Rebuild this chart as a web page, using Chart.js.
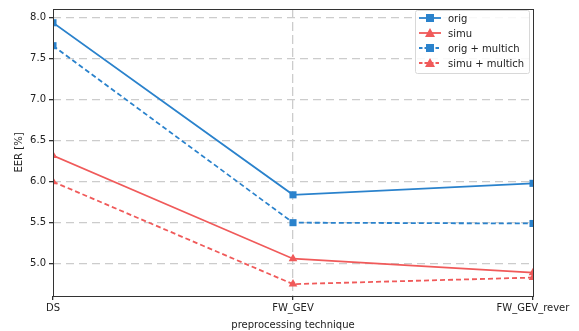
<!DOCTYPE html>
<html>
<head>
<meta charset="utf-8">
<script src="https://cdn.jsdelivr.net/npm/chart.js@4/dist/chart.umd.min.js"></script>
<style>
  html, body { margin: 0; padding: 0; background: #fff; }
  #wrap { width: 579px; height: 331px; }
</style>
</head>
<body>
<div id="wrap"><canvas id="grafico" width="579" height="331"></canvas></div>
<script>
// --- DADOS ---
const categorias = ['DS', 'FW_GEV', 'FW_GEV_rever'];
const orig = [7.94, 5.84, 5.98];
const simu = [6.32, 5.06, 4.89];
const origMultich = [7.66, 5.50, 5.49];
const simuMultich = [6.00, 4.75, 4.83];
const yTicks = [5.0, 5.5, 6.0, 6.5, 7.0, 7.5, 8.0];

const AZUL = '#2a82cc';
const VERMELHO = '#f05a5a';
const FONTE = "'DejaVu Sans', sans-serif";

const series = [
    { label: 'orig', data: orig, cor: AZUL, ponto: 'rect', tracejado: [] },
    { label: 'simu', data: simu, cor: VERMELHO, ponto: 'triangle', tracejado: [] },
    { label: 'orig + multich', data: origMultich, cor: AZUL, ponto: 'rect', tracejado: [5, 3] },
    { label: 'simu + multich', data: simuMultich, cor: VERMELHO, ponto: 'triangle', tracejado: [5, 3] }
];

// moldura + legenda no estilo matplotlib
const molduraPlugin = {
    id: 'moldura',
    afterDraw(chart) {
        const { ctx, chartArea: a } = chart;
        ctx.save();
        ctx.strokeStyle = '#333';
        ctx.lineWidth = 1;
        ctx.strokeRect(a.left + 0.5, a.top + 0.5, a.right - a.left, a.bottom - a.top);

        // legenda
        const bx = 415, by = 10, bw = 114, bh = 63;
        ctx.fillStyle = 'rgba(255,255,255,0.85)';
        ctx.strokeStyle = '#d8d8d8';
        ctx.beginPath();
        ctx.roundRect(bx + 0.5, by + 0.5, bw, bh, 2);
        ctx.fill();
        ctx.stroke();
        ctx.font = '10px ' + FONTE;
        ctx.textBaseline = 'middle';
        series.forEach((s, i) => {
            const y = by + 8 + i * 15;
            ctx.strokeStyle = s.cor;
            ctx.lineWidth = 1.8;
            ctx.setLineDash(s.tracejado.length ? [3.5, 2] : []);
            ctx.beginPath();
            ctx.moveTo(bx + 4, y);
            ctx.lineTo(bx + 26, y);
            ctx.stroke();
            ctx.setLineDash([]);
            ctx.fillStyle = s.cor;
            if (s.ponto === 'rect') {
                ctx.fillRect(bx + 11, y - 4, 8, 8);
            } else {
                ctx.beginPath();
                ctx.moveTo(bx + 15, y - 5);
                ctx.lineTo(bx + 20, y + 4);
                ctx.lineTo(bx + 10, y + 4);
                ctx.closePath();
                ctx.fill();
            }
            ctx.fillStyle = '#222';
            ctx.fillText(s.label, bx + 33, y + 1);
        });
        ctx.restore();
    }
};

const ctx = document.getElementById('grafico').getContext('2d');
new Chart(ctx, {
    type: 'line',
    data: {
        labels: categorias,
        datasets: series.map(s => ({
            label: s.label,
            data: s.data,
            borderColor: s.cor,
            backgroundColor: s.cor,
            borderWidth: 1.8,
            borderDash: s.tracejado,
            pointStyle: s.ponto,
            pointRadius: 5,
            pointHoverRadius: 5,
            pointBorderWidth: 0,
            tension: 0,
            clip: 0
        }))
    },
    options: {
        responsive: false,
        animation: false,
        events: [],
        layout: { padding: { left: 0, right: 46, top: 4, bottom: 0 } },
        plugins: {
            legend: { display: false },
            tooltip: { enabled: false }
        },
        scales: {
            x: {
                type: 'category',
                offset: false,
                grid: {
                    color: c => (c.index === 1 ? '#cccccc' : 'rgba(0,0,0,0)'),
                    lineWidth: 1.3,
                    tickColor: '#333',
                    tickLength: 4,
                    tickBorderDash: [],
                    drawTicks: true
                },
                border: { display: false, dash: [9, 4] },
                ticks: { color: '#222', font: { family: FONTE, size: 10 }, padding: 2, maxRotation: 0, autoSkip: false },
                title: { display: true, text: 'preprocessing technique', color: '#222', font: { family: FONTE, size: 10 }, padding: { top: 2, bottom: 0 } },
                afterFit: s => { s.height = 35; }
            },
            y: {
                min: 4.605,
                max: 8.108,
                border: { display: false, dash: [8, 5] },
                afterBuildTicks: s => { s.ticks = yTicks.map(v => ({ value: v })); },
                grid: {
                    color: '#cccccc',
                    lineWidth: 1.3,
                    tickColor: '#333',
                    tickLength: 4,
                    tickBorderDash: []
                },
                ticks: {
                    color: '#222',
                    font: { family: FONTE, size: 10 },
                    padding: 3,
                    callback: v => Number(v).toFixed(1)
                },
                title: { display: true, text: 'EER [%]', color: '#222', font: { family: FONTE, size: 10 }, padding: { top: 13, bottom: 4 } },
                afterFit: s => { s.width = 53; }
            }
        }
    },
    plugins: [molduraPlugin]
});
</script>
</body>
</html>
